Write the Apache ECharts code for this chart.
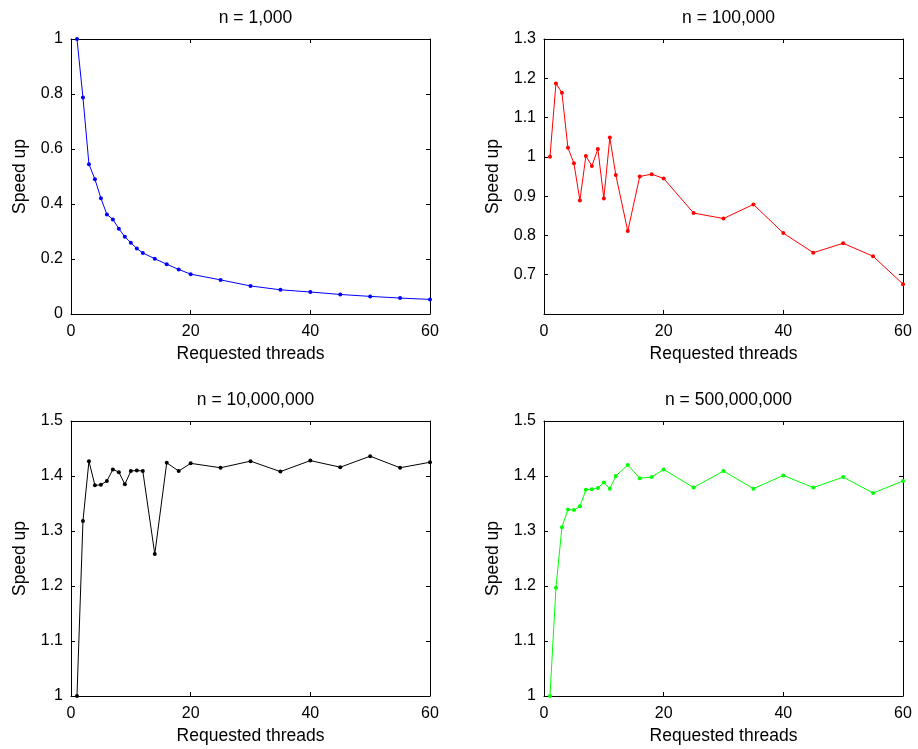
<!DOCTYPE html>
<html>
<head>
<meta charset="utf-8">
<script src="https://cdn.jsdelivr.net/npm/echarts@6/dist/echarts.min.js"></script>
<style>
  html, body { margin: 0; padding: 0; background: #fff; }
  #chart { width: 918px; height: 749px; }
</style>
</head>
<body>
<div id="chart"></div>
<script>
// requested thread counts (same for every run)
const threads = [1, 2, 3, 4, 5, 6, 7, 8, 9, 10, 11, 12, 14, 16, 18, 20, 25, 30, 35, 40, 45, 50, 55, 60];

// speed up
const speedup1k = [1.0, 0.787, 0.545, 0.490, 0.421, 0.362, 0.344, 0.310, 0.281, 0.259, 0.238, 0.222,
  0.201, 0.181, 0.162, 0.145, 0.124, 0.102, 0.088, 0.080, 0.071, 0.064, 0.058, 0.053];
const speedup100k = [1.0, 1.187, 1.163, 1.023, 0.984, 0.889, 1.002, 0.977, 1.020, 0.894, 1.049, 0.954,
  0.811, 0.950, 0.956, 0.945, 0.857, 0.843, 0.879, 0.806, 0.756, 0.780, 0.747, 0.676];
const speedup10m = [1.0, 1.318, 1.427, 1.383, 1.384, 1.391, 1.412, 1.407, 1.385, 1.409, 1.410, 1.409,
  1.258, 1.424, 1.409, 1.423, 1.415, 1.427, 1.408, 1.428, 1.416, 1.436, 1.415, 1.425];
const speedup500m = [1.0, 1.197, 1.307, 1.339, 1.338, 1.345, 1.375, 1.376, 1.378, 1.388, 1.377, 1.400,
  1.420, 1.396, 1.398, 1.412, 1.379, 1.409, 1.377, 1.401, 1.379, 1.398, 1.369, 1.391];

const titles = ['n = 1,000', 'n = 100,000', 'n = 10,000,000', 'n = 500,000,000'];
const colors = ['#0000ff', '#ff0000', '#000000', '#00ff00'];
const yRanges = [[0, 1, 0.2], [0.6, 1.3, 0.1], [1, 1.5, 0.1], [1, 1.5, 0.1]];
const seriesValues = [speedup1k, speedup100k, speedup10m, speedup500m];

const FONT = 'Liberation Sans, Arial, Helvetica, sans-serif';
const grids = [
  { left: 71, top: 39, width: 359, height: 275 },
  { left: 544, top: 39, width: 359, height: 275 },
  { left: 71, top: 421, width: 359, height: 275 },
  { left: 544, top: 421, width: 359, height: 275 }
];

const chart = echarts.init(document.getElementById('chart'));

const axisLine = { show: true, onZero: false, lineStyle: { color: '#000', width: 1 } };
const tick = { show: true, inside: true, length: 4, lineStyle: { color: '#000' } };

let xAxis = [], yAxis = [], series = [], title = [];
grids.forEach((g, i) => {
  const [ymin, ymax, yint] = yRanges[i];
  xAxis.push({
    gridIndex: i, type: 'value', position: 'bottom', min: 0, max: 60, interval: 20,
    axisLine, axisTick: tick, splitLine: { show: false },
    axisLabel: { color: '#000', fontSize: 16, fontFamily: FONT, margin: 10 },
    name: 'Requested threads', nameLocation: 'middle', nameGap: 31,
    nameTextStyle: { color: '#000', fontSize: 17.5, fontFamily: FONT }
  });
  xAxis.push({
    gridIndex: i, type: 'value', position: 'top', min: 0, max: 60, interval: 20,
    axisLine, axisTick: tick, splitLine: { show: false }, axisLabel: { show: false }
  });
  yAxis.push({
    gridIndex: i, type: 'value', position: 'left', min: ymin, max: ymax, interval: yint,
    axisLine, axisTick: tick, splitLine: { show: false },
    axisLabel: { color: '#000', fontSize: 16, fontFamily: FONT, margin: 8, showMinLabel: i !== 1 },
    name: 'Speed up', nameLocation: 'middle', nameGap: 42, nameRotate: 90,
    nameTextStyle: { color: '#000', fontSize: 17.5, fontFamily: FONT }
  });
  yAxis.push({
    gridIndex: i, type: 'value', position: 'right', min: ymin, max: ymax, interval: yint,
    axisLine, axisTick: tick, splitLine: { show: false }, axisLabel: { show: false }
  });
  series.push({
    type: 'line', xAxisIndex: 2 * i, yAxisIndex: 2 * i,
    data: threads.map((t, k) => [t, seriesValues[i][k]]),
    symbol: 'circle', symbolSize: 4, showSymbol: true,
    lineStyle: { color: colors[i], width: 1 },
    itemStyle: { color: colors[i] },
    animation: false, clip: false
  });
  title.push({
    text: titles[i], left: g.left + g.width / 2, top: g.top - 35, textAlign: 'center',
    textStyle: { color: '#000', fontSize: 17.5, fontWeight: 'normal', fontFamily: FONT }
  });
});

chart.setOption({
  backgroundColor: '#fff',
  animation: false,
  title: title,
  grid: grids,
  xAxis: xAxis,
  yAxis: yAxis,
  series: series
});
</script>
</body>
</html>
